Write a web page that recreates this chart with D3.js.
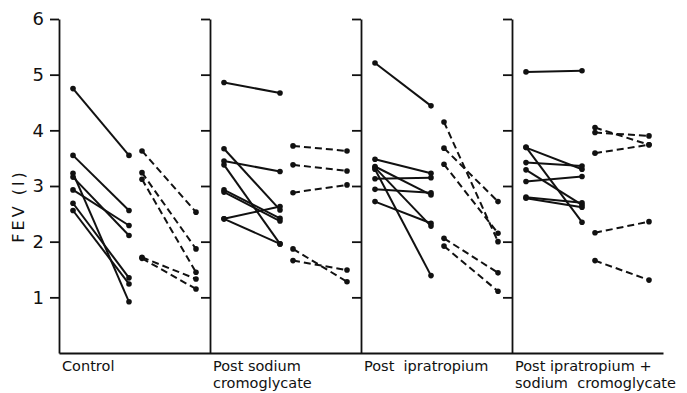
<!DOCTYPE html>
<html>
<head>
<meta charset="utf-8">
<script src="https://cdn.jsdelivr.net/npm/d3@7"></script>
<style>
  body { margin: 0; background: #fff; }
  text { font-family: "DejaVu Sans", sans-serif; fill: #111; }
</style>
</head>
<body>
<div id="chart"></div>
<script>
// FEV values, [before, after] for each subject
const panelLabels = [
    ["Control"],
    ["Post sodium", "cromoglycate"],
    ["Post  ipratropium"],
    ["Post ipratropium +", "sodium  cromoglycate"]
];

const controlSolid = [[4.75, 3.55], [3.55, 2.56], [3.23, 0.92], [3.16, 2.11], [2.93, 2.29], [2.69, 1.35], [2.56, 1.24]];
const controlDashed = [[3.63, 2.53], [3.24, 1.87], [3.12, 1.45], [1.72, 1.33], [1.70, 1.15]];

const cromoSolid = [[4.86, 4.67], [3.67, 2.57], [3.45, 3.26], [3.38, 1.96], [2.93, 2.42], [2.89, 2.37], [2.41, 2.63], [2.41, 1.96]];
const cromoDashed = [[3.72, 3.63], [3.38, 3.27], [2.88, 3.02], [1.87, 1.28], [1.66, 1.49]];

const iprSolid = [[5.21, 4.44], [3.48, 3.23], [3.35, 2.84], [3.33, 2.28], [3.30, 1.39], [3.13, 3.15], [2.94, 2.88], [2.72, 2.33]];
const iprDashed = [[4.15, 2.00], [3.68, 2.72], [3.39, 2.15], [2.06, 1.44], [1.92, 1.11]];

const bothSolid = [[5.05, 5.07], [3.69, 3.30], [3.70, 2.35], [3.42, 3.36], [3.29, 2.66], [3.08, 3.17], [2.80, 2.70], [2.78, 2.62]];
const bothDashed = [[4.05, 3.74], [3.96, 3.90], [3.59, 3.74], [2.16, 2.36], [1.66, 1.31]];

const yTicks = [1, 2, 3, 4, 5, 6];

const solidSets = [controlSolid, cromoSolid, iprSolid, bothSolid];
const dashedSets = [controlDashed, cromoDashed, iprDashed, bothDashed];

const width = 687, height = 393;
const margin = {top: 19, bottom: 40, left: 59, right: 24};

const svg = d3.select("#chart")
    .append("svg")
    .attr("width", width)
    .attr("height", height);

// Scales
const yScale = d3.scaleLinear()
    .domain([0, 6])
    .range([height - margin.bottom, margin.top]);

const panelScale = d3.scaleLinear()
    .domain([0, 4])
    .range([margin.left, width - margin.right]);

// column offsets inside a panel: solid before/after, dashed before/after
const colScale = d3.scaleOrdinal()
    .domain(["s0", "s1", "d0", "d1"])
    .range([14, 70, 83, 137]);

// Axes, one vertical axis per panel
panelLabels.forEach((lab, i) => {
    const ax = d3.axisLeft(yScale)
        .tickValues(yTicks)
        .tickSize(9)
        .tickSizeOuter(0)
        .tickPadding(6)
        .tickFormat(i === 0 ? d3.format("d") : "");
    const g = svg.append("g")
        .attr("transform", `translate(${panelScale(i)},0)`)
        .call(ax);
    g.selectAll("path, line").attr("stroke", "#111").attr("stroke-width", 1.8);
    g.selectAll("text")
        .style("font-family", "DejaVu Sans, sans-serif")
        .style("font-size", "18px")
        .attr("fill", "#111");
});

// bottom axis line
const xAxis = svg.append("g")
    .attr("transform", `translate(0,${yScale(0)})`)
    .call(d3.axisBottom(panelScale).tickValues([]).tickSizeOuter(0));
xAxis.select("path").attr("stroke", "#111").attr("stroke-width", 1.8);

// Y label
svg.append("text")
    .attr("transform", "rotate(-90)")
    .attr("x", -206)
    .attr("y", 24)
    .style("text-anchor", "middle")
    .style("font-size", "16px")
    .style("letter-spacing", "3px")
    .text("FEV (l)");

// Lines and dots
function drawPairs(data, i, c0, c1, dash) {
    const x0 = panelScale(i) + colScale(c0);
    const x1 = panelScale(i) + colScale(c1);
    const g = svg.append("g");
    g.selectAll("line")
        .data(data)
        .enter().append("line")
        .attr("x1", x0)
        .attr("y1", d => yScale(d[0]))
        .attr("x2", x1)
        .attr("y2", d => yScale(d[1]))
        .attr("stroke", "#111")
        .attr("stroke-width", 2)
        .attr("stroke-dasharray", dash ? "7,4" : null);
    g.selectAll(".p0")
        .data(data)
        .enter().append("circle")
        .attr("class", "p0")
        .attr("cx", x0)
        .attr("cy", d => yScale(d[0]))
        .attr("r", 2.8)
        .attr("fill", "#111");
    g.selectAll(".p1")
        .data(data)
        .enter().append("circle")
        .attr("class", "p1")
        .attr("cx", x1)
        .attr("cy", d => yScale(d[1]))
        .attr("r", 2.8)
        .attr("fill", "#111");
}

solidSets.forEach((s, i) => drawPairs(s, i, "s0", "s1", false));
dashedSets.forEach((s, i) => drawPairs(s, i, "d0", "d1", true));

// Panel labels, one text per line
panelLabels.forEach((lines, i) => {
    lines.forEach((l, j) => {
        svg.append("text")
            .attr("x", panelScale(i) + 3)
            .attr("y", 371 + j * 17)
            .style("font-size", "14.5px")
            .style("white-space", "pre")
            .text(l);
    });
});
</script>
</body>
</html>
